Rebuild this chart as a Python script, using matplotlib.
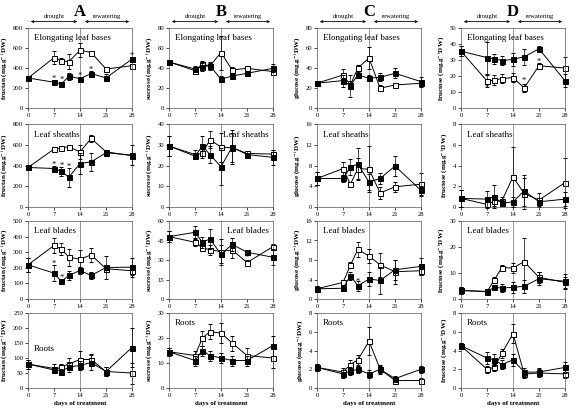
import numpy as np
import matplotlib
matplotlib.use("Agg")
from matplotlib import pyplot as plt

plt.rcParams['font.family'] = ['Liberation Serif', 'DejaVu Serif']
plt.rcParams['mathtext.fontset'] = 'stix'

days = [0, 7, 9, 11, 14, 17, 21, 28]
rows = ["Elongating leaf bases", "Leaf sheaths", "Leaf blades", "Roots"]
letters = ["A", "B", "C", "D"]
sugars = ["fructan", "sucrose", "glucose", "fructose"]

# filled squares (one per row: leaf bases, sheaths, blades, roots)
fructan_f = [[300, 258, 241, 317, 294, 344, 301, 489],
             [381, 371, 345, 287, 419, 435, 523, 500],
             [219, 166, 113, 151, 183, 151, 202, 204],
             [80, 65, 55, 70, 75, 85, 55, 135]]
fructan_f_err = [[10, 20, 20, 35, 15, 25, 35, 10],
                 [15, 25, 45, 90, 100, 90, 20, 95],
                 [45, 50, 15, 30, 25, 20, 75, 60],
                 [15, 15, 10, 15, 15, 25, 15, 65]]
fructan_o = [[300, 502, 473, 463, 578, 555, 390, 423],
             [381, 558, 571, 580, 532, 661, 532, 494],
             [219, 343, 319, 268, 255, 283, 194, 181],
             [80, 60, 70, 80, 95, 95, 55, 50]]
fructan_o_err = [[10, 65, 30, 75, 70, 10, 25, 10],
                 [15, 20, 15, 10, 70, 30, 20, 15],
                 [45, 45, 40, 55, 60, 45, 20, 30],
                 [15, 10, 10, 20, 30, 20, 15, 35]]

sucrose_f = [[46, 39, 41.3, 42.3, 28.8, 32, 34.7, 39.7],
             [29.4, 24.5, 29.4, 25.3, 19.4, 28.9, 25.3, 23.9],
             [48, 51.3, 43.6, 46.2, 34.4, 42, 36, 32.1],
             [14.5, 11, 15, 13, 12, 11, 11, 17]]
sucrose_f_err = [[2, 3, 4, 4, 3, 2, 2, 4],
                 [5, 1.5, 5, 4, 9, 8, 1.5, 3.5],
                 [4, 5, 4, 8, 7, 5, 2, 6],
                 [1.5, 2, 2, 2, 2, 2, 2, 4]]
sucrose_o = [[46, 37.4, 44, 42, 55.5, 38, 39.7, 36.4],
             [29.4, 25.3, 25.8, 32.4, 28.9, 28.5, 25.8, 25.5],
             [48, 43.6, 39.5, 37.8, 36.5, 37.8, 28, 40.3],
             [14.5, 13, 20, 22.5, 22, 18, 13, 12]]
sucrose_o_err = [[2, 3, 3, 3, 17, 3, 2, 2],
                 [5, 2, 2, 4, 7, 7, 1, 2],
                 [4, 3, 2, 4, 10, 6, 2, 2],
                 [1.5, 2, 3, 3, 4, 3, 3, 4]]

glucose_f = [[24.8, 27.4, 22.5, 33, 29.8, 30.7, 34.7, 26.4],
             [5.5, 5.5, 7.7, 8.3, 4.8, 5.5, 7.9, 3.2],
             [2.1, 2.2, 4.8, 2.7, 4.1, 3.8, 6, 6.7],
             [2.2, 1.5, 1.8, 2, 1.5, 2, 1, 2]]
glucose_f_err = [[2, 6, 11, 3, 3, 4, 5, 5],
                 [1.2, 0.7, 1.5, 3, 1.5, 1, 2, 0.8],
                 [0.6, 0.5, 0.8, 1, 1.5, 2.8, 2, 1.8],
                 [0.4, 0.4, 0.4, 0.4, 0.4, 0.4, 0.3, 0.4]]
glucose_o = [[24.8, 33, 23, 40, 50, 19.8, 23, 24.8],
             [5.5, 7.4, 4.4, 7.4, 7.3, 2.7, 3.9, 4.4],
             [2.1, 3.4, 6.9, 10.2, 8.8, 7, 5.6, 5.8],
             [2.2, 1.7, 2.5, 3, 5, 2, 0.8, 0.8]]
glucose_o_err = [[2, 6, 4, 3, 11, 3, 1, 3],
                 [1.2, 1.3, 0.5, 2, 4.5, 1.2, 1, 2.2],
                 [0.6, 0.6, 0.6, 1.5, 1.5, 2.5, 2.5, 0.8],
                 [0.4, 0.4, 0.5, 0.5, 1.5, 0.5, 0.3, 0.3]]

fructose_f = [[35.5, 31.5, 30.8, 29.6, 30.4, 32, 37, 17],
              [0.83, 0.76, 1.0, 0.35, 0.5, 1.56, 0.5, 0.76],
              [3.3, 2.9, 4.5, 4.2, 4.5, 4.9, 7.8, 6.8],
              [4.5, 3.2, 3, 2.5, 3, 1.7, 1.7, 2.2]]
fructose_f_err = [[3, 10, 3, 3, 4, 5, 1.5, 4],
                  [0.8, 0.8, 1.1, 0.3, 0.5, 1.5, 0.4, 0.7],
                  [1.5, 1, 1, 1.5, 2, 2.5, 2.5, 3],
                  [0.3, 0.6, 0.6, 0.5, 0.6, 0.4, 0.4, 0.6]]
fructose_o = [[35.5, 16.9, 17.4, 18.4, 19, 12.6, 26.4, 25],
              [0.83, 0.25, 0.55, 0.6, 2.9, 1.3, 0.67, 2.35],
              [3.3, 2.8, 7.4, 12.1, 11.9, 14.4, 8.3, 6.4],
              [4.5, 2, 2.2, 3.7, 5.8, 1.5, 1.6, 1.5]]
fructose_o_err = [[3, 4, 3, 3, 3, 2.5, 1.5, 7],
                  [0.8, 0.3, 0.5, 0.4, 2.9, 1.5, 0.7, 2.4],
                  [1.5, 1, 1, 1, 2, 9, 2, 2],
                  [0.3, 0.4, 0.4, 0.5, 1, 0.4, 0.4, 0.4]]

col_f = [fructan_f, sucrose_f, glucose_f, fructose_f]
col_fe = [fructan_f_err, sucrose_f_err, glucose_f_err, fructose_f_err]
col_o = [fructan_o, sucrose_o, glucose_o, fructose_o]
col_oe = [fructan_o_err, sucrose_o_err, glucose_o_err, fructose_o_err]

ylims = [[800, 800, 500, 250], [80, 40, 60, 30], [80, 16, 16, 8], [50, 8, 30, 8]]
ysteps = [[200, 200, 100, 50], [20, 10, 15, 10], [20, 4, 4, 2], [10, 2, 10, 2]]

# significance stars (day, value)
stars = {(0, 0): [(7, 290), (9, 280), (14, 325), (17, 385), (28, 525)],
         (0, 1): [(7, 410), (9, 400), (11, 390)],
         (0, 2): [(7, 225), (9, 135)],
         (1, 2): [(21, 32)],
         (2, 2): [(11, 3.6)],
         (3, 0): [(7, 12.5), (17, 17), (21, 29)]}

# label placement per panel: (x, y, ha) in axes fraction
label_pos = {(1, 1): (0.96, 0.92, 'right'), (1, 2): (0.96, 0.92, 'right'),
             (0, 3): (0.06, 0.58, 'left')}

lefts = [28, 169, 317, 461]
width = 104
tops = [28, 124, 221, 313]
bottoms = [108, 207, 299, 388]
W, H = 576, 415

fig = plt.figure(figsize=(5.76, 4.15), dpi=100)

for c in range(4):
    for r in range(4):
        ax = fig.add_axes([lefts[c] / W, 1 - bottoms[r] / H,
                           width / W, (bottoms[r] - tops[r]) / H])
        ax.axvline(14, color='#888888', lw=0.6, zorder=0)
        ax.errorbar(days, col_o[c][r], yerr=col_oe[c][r], fmt='-s', color='black',
                    mfc='white', mec='black', ms=3.6, mew=0.7, lw=0.7,
                    elinewidth=0.5, capsize=1.2, capthick=0.5, clip_on=False, zorder=2)
        ax.errorbar(days, col_f[c][r], yerr=col_fe[c][r], fmt='-s', color='black',
                    mfc='black', mec='black', ms=3.6, mew=0.7, lw=0.7,
                    elinewidth=0.5, capsize=1.2, capthick=0.5, clip_on=False, zorder=3)
        for d, v in stars.get((c, r), []):
            ax.text(d, v, '*', ha='center', va='center', fontsize=6)
        ax.set_xlim(0, 28)
        ax.set_ylim(0, ylims[c][r])
        ax.set_xticks([0, 7, 14, 21, 28])
        ax.set_yticks(np.arange(0, ylims[c][r] + 0.01, ysteps[c][r]))
        ax.tick_params(labelsize=4.8, length=2, width=0.5, pad=1.5)
        for s in ax.spines.values():
            s.set_linewidth(0.5)
            s.set_color('#555555')
        ax.set_ylabel(sugars[c] + ' (mg.g$^{-1}$DW)', fontsize=5, fontweight='bold', labelpad=2)
        lx, ly, ha = label_pos.get((c, r), (0.06, 0.92, 'left'))
        ax.text(lx, ly, rows[r], transform=ax.transAxes, ha=ha, va='top', fontsize=6.5)
        if r == 0:
            ax.annotate('', xy=(0, 1.08), xytext=(0.5, 1.08), xycoords='axes fraction',
                        arrowprops=dict(arrowstyle='<->', lw=0.6, mutation_scale=4), annotation_clip=False)
            ax.annotate('', xy=(0.52, 1.08), xytext=(1, 1.08), xycoords='axes fraction',
                        arrowprops=dict(arrowstyle='<->', lw=0.6, mutation_scale=4), annotation_clip=False)
            ax.text(0.25, 1.11, 'drought', transform=ax.transAxes, ha='center', va='bottom', fontsize=4.8)
            ax.text(0.76, 1.11, 'rewatering', transform=ax.transAxes, ha='center', va='bottom', fontsize=4.8)
            ax.text(0.5, 1.1, letters[c], transform=ax.transAxes, ha='center', va='bottom',
                    fontsize=12, fontweight='bold')
        if r == 3:
            ax.set_xlabel('days of treatment', fontsize=5, fontweight='bold', labelpad=2)

plt.savefig("out.png", dpi=100)
